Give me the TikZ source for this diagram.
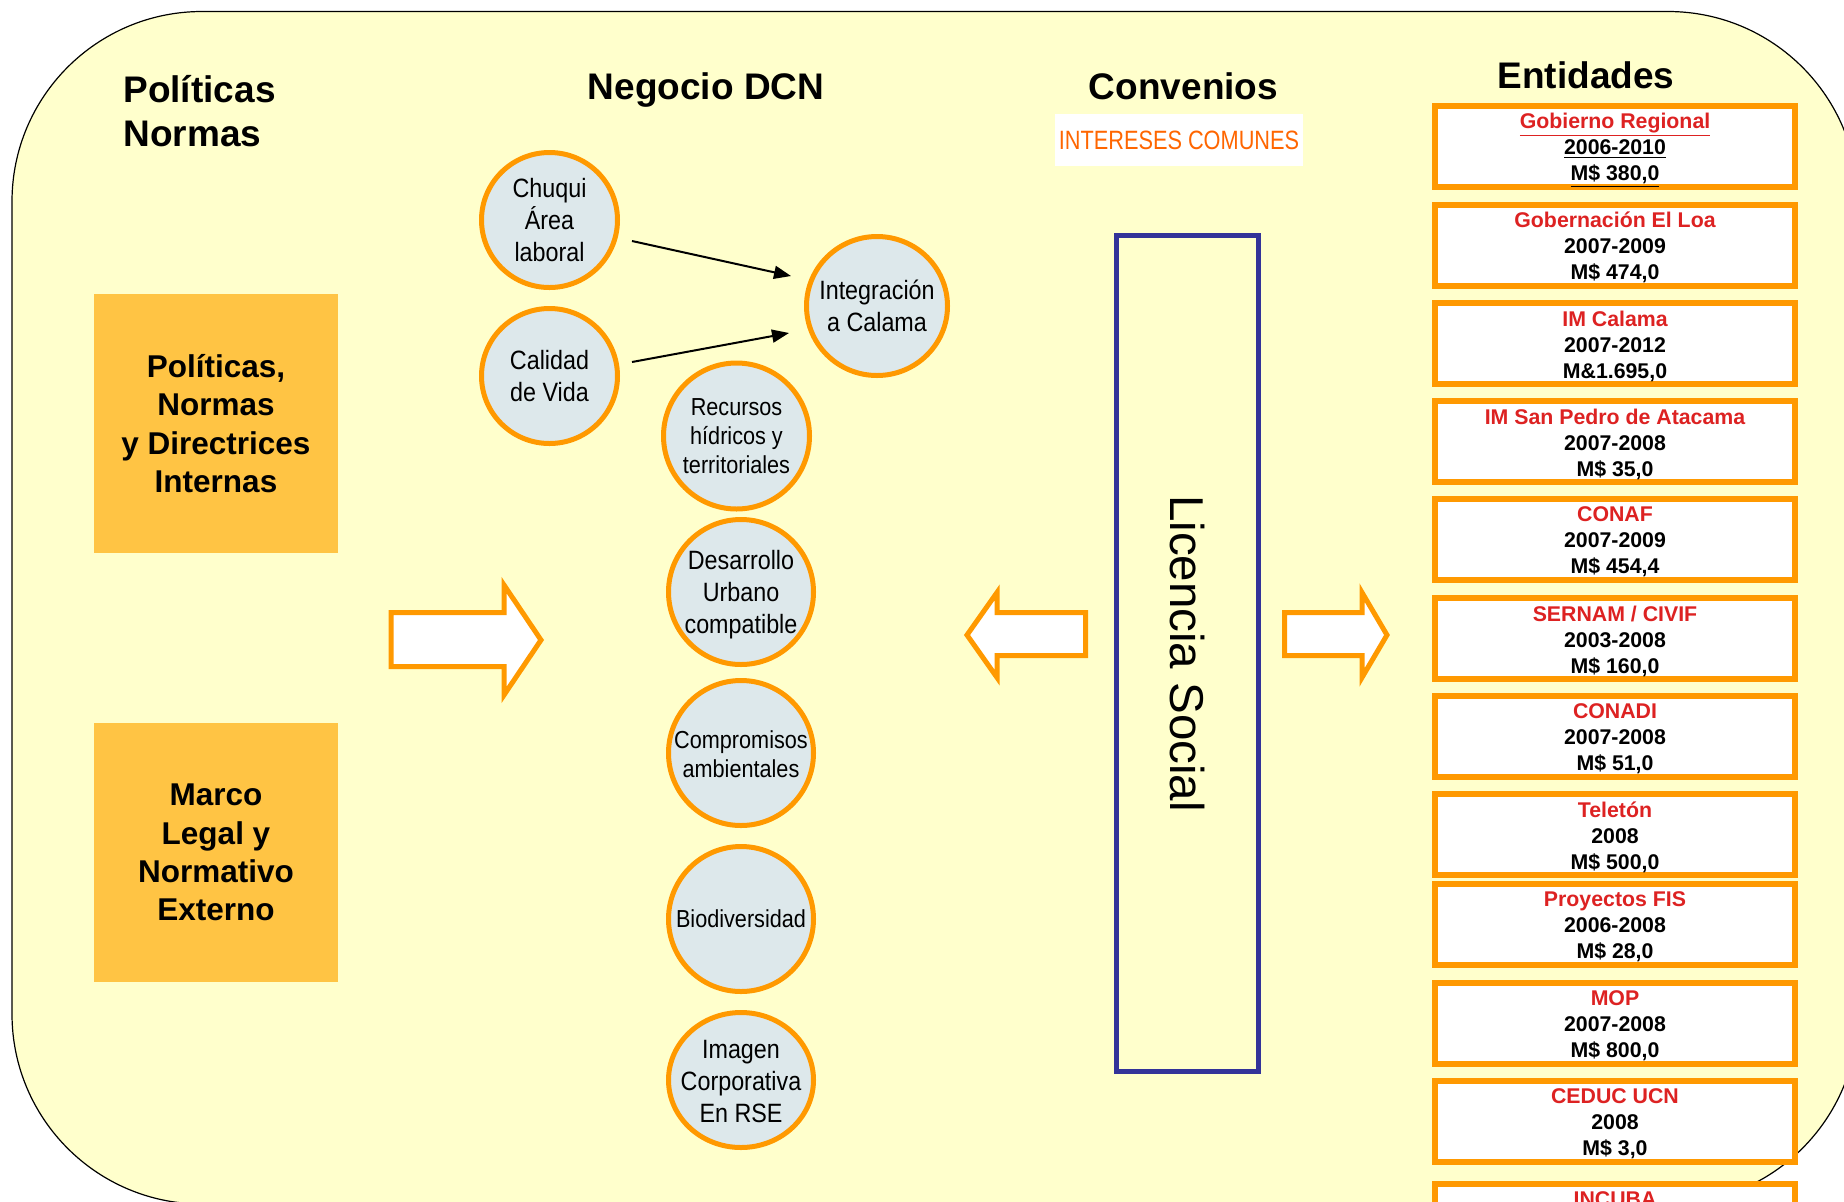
\documentclass[tikz,border=0pt]{standalone}
\usepackage{fontspec}
\setmainfont{Liberation Sans}
\newfontfamily\narrowA[FakeStretch=0.88]{Liberation Sans}
\newfontfamily\narrowB[FakeStretch=0.82]{Liberation Sans}
\usetikzlibrary{shapes.geometric,arrows.meta,calc}
\definecolor{bgyellow}{RGB}{255,255,204}
\definecolor{orng}{RGB}{255,153,0}
\definecolor{goldfill}{RGB}{255,196,68}
\definecolor{circfill}{RGB}{221,232,235}
\definecolor{navyline}{RGB}{51,51,153}
\definecolor{entred}{RGB}{221,34,34}
\definecolor{intorange}{RGB}{255,102,0}
\newcommand{\enttext}[3]{{\color{entred}#1}\\#2\\#3}
\tikzset{
  circ/.style={ellipse, draw=orng, line width=2.5pt, fill=circfill, inner sep=0pt},
  ctext/.style={inner sep=0pt, align=center, font=\narrowA\fontsize{13.25}{16}\selectfont},
  ctexts/.style={inner sep=0pt, align=center, font=\narrowA\fontsize{12.3}{14.35}\selectfont},
  goldbox/.style={rectangle, fill=goldfill, minimum width=122pt, minimum height=129.5pt, inner sep=0pt, align=center, font=\bfseries\fontsize{15.75}{19.15}\selectfont},
  entbox/.style={rectangle, draw=orng, line width=3pt, fill=white, minimum width=180pt, minimum height=40.5pt, inner sep=0pt},
  enttxt/.style={inner sep=0pt, align=center, font=\bfseries\fontsize{10.65}{13}\selectfont},
  header/.style={anchor=base, inner sep=0pt, font=\bfseries\fontsize{18.5}{22}\selectfont},
  blockarrow/.style={draw=orng, line width=2.5pt, fill=white, miter limit=10},
  conn/.style={-{Triangle[length=8.5pt,width=6.5pt]}, line width=1pt, black},
}
\begin{document}
\begin{tikzpicture}[x=0.5pt,y=-0.5pt]
\useasboundingbox (0,0) rectangle (1844,1201);
\fill[white] (0,0) rectangle (1844,1201);
\begin{scope}
  \clip (0,0) rectangle (1844,1201);
  \draw[fill=bgyellow, line width=0.6pt, rounded corners=95pt] (12,11.5) rectangle (1858,1204);
\end{scope}

% headers
\node[inner sep=0pt, anchor=west, align=left, font=\bfseries\fontsize{18.5}{22}\selectfont] (polnorm) at (123,111.5) {Políticas\\Normas};
\node[header] (negocio) at (706,99.5) {Negocio DCN};
\node[header] (convenios) at (1183.5,99.5) {Convenios};
\node[header] (entidades) at (1586,88) {Entidades};
\node[fill=white, minimum width=124pt, minimum height=26pt, inner sep=0pt, text height=9.5pt, text depth=0pt, text=intorange, font=\narrowB\fontsize{13.25}{15}\selectfont] (intereses) at (1179,140) {INTERESES COMUNES};

% left boxes
\node[goldbox] (pol) at (216,423.5) {Políticas,\\Normas\\y Directrices\\Internas};
\node[goldbox] (marco) at (216,852.5) {Marco\\Legal y\\Normativo\\Externo};

% block arrows
\draw[blockarrow] (391,612.5) -- (504,612.5) -- (504,585) -- (541,640) -- (504,695) -- (504,666.5) -- (391,666.5) -- cycle;
\draw[blockarrow] (1085.5,612.5) -- (997,612.5) -- (997,592.5) -- (967,635) -- (997,677.5) -- (997,655.5) -- (1085.5,655.5) -- cycle;
\draw[blockarrow] (1284.5,612.5) -- (1362,612.5) -- (1362,592.5) -- (1387,635) -- (1362,677.5) -- (1362,655.5) -- (1284.5,655.5) -- cycle;

% circles
\node[circ, minimum width=68pt, minimum height=67.5pt] (chuqui) at (549.5,220) {};
\node[ctext] (chuqui-t) at (chuqui.center) {Chuqui\\Área\\laboral};
\node[circ, minimum width=68pt, minimum height=67.5pt] (calidad) at (549.5,376) {};
\node[ctext] (calidad-t) at (calidad.center) {Calidad\\de Vida};
\node[circ, minimum width=70.5pt, minimum height=69.5pt] (integ) at (877,306) {};
\node[ctext] (integ-t) at (integ.center) {Integración\\a Calama};
\node[circ, minimum width=73pt, minimum height=73pt] (recursos) at (736.5,436) {};
\node[ctexts] (recursos-t) at (recursos.center) {Recursos\\hídricos y\\territoriales};
\node[circ, minimum width=72.5pt, minimum height=72.5pt] (desarrollo) at (741,592) {};
\node[ctext] (desarrollo-t) at ($(desarrollo.center)+(0,3)$) {Desarrollo\\Urbano\\compatible};
\node[circ, minimum width=72.5pt, minimum height=72.5pt] (compromisos) at (741,753) {};
\node[ctexts] (compromisos-t) at ($(compromisos.center)+(0,1.5)$) {Compromisos\\ambientales};
\node[circ, minimum width=72.5pt, minimum height=72.5pt] (biodiv) at (741,919) {};
\node[ctexts] (biodiv-t) at (biodiv.center) {Biodiversidad};
\node[circ, minimum width=72.5pt, minimum height=67.5pt] (imagen) at (741,1080) {};
\node[ctext] (imagen-t) at ($(imagen.center)+(0,1.5)$) {Imagen\\Corporativa\\En RSE};

% connectors
\draw[conn] ($(chuqui.center)+(82.5,21)$) -- ($(integ.center)+(-86,-30)$);
\draw[conn] ($(calidad.center)+(82.5,-14)$) -- ($(integ.center)+(-88,27)$);

% licencia social
\node[draw=navyline, line width=2.5pt, minimum width=71pt, minimum height=418pt, inner sep=0pt] (licencia) at (1187.5,653.5) {};
\node[rotate=-90, inner sep=0pt, font=\fontsize{23.75}{28}\selectfont] (licencia-t) at (licencia.center) {Licencia Social};

% entidades
\node[entbox] (e1) at (1615,146.5) {};
\node[enttxt] (e1-t) at ($(e1.center)+(0,4)$) {{\color{entred}\underline{Gobierno Regional}}\\\underline{2006-2010}\\\underline{M\$ 380,0}};
\node[entbox] (e2) at (1615,245) {};
\node[enttxt] (e2-t) at ($(e2.center)+(0,2.5)$) {\enttext{Gobernación El Loa}{2007-2009}{M\$ 474,0}};
\node[entbox] (e3) at (1615,343.5) {};
\node[enttxt] (e3-t) at ($(e3.center)+(0,2.5)$) {\enttext{IM Calama}{2007-2012}{M\&1.695,0}};
\node[entbox] (e4) at (1615,441.5) {};
\node[enttxt] (e4-t) at ($(e4.center)+(0,2.5)$) {\enttext{IM San Pedro de Atacama}{2007-2008}{M\$ 35,0}};
\node[entbox] (e5) at (1615,539.5) {};
\node[enttxt] (e5-t) at ($(e5.center)+(0,2.5)$) {\enttext{CONAF}{2007-2009}{M\$ 454,4}};
\node[entbox] (e6) at (1615,638.5) {};
\node[enttxt] (e6-t) at ($(e6.center)+(0,2.5)$) {\enttext{SERNAM / CIVIF}{2003-2008}{M\$ 160,0}};
\node[entbox] (e7) at (1615,736.5) {};
\node[enttxt] (e7-t) at ($(e7.center)+(0,2.5)$) {\enttext{CONADI}{2007-2008}{M\$ 51,0}};
\node[entbox] (e8) at (1615,834.5) {};
\node[enttxt] (e8-t) at ($(e8.center)+(0,2.5)$) {\enttext{Teletón}{2008}{M\$ 500,0}};
\node[entbox] (e9) at (1615,924.5) {};
\node[enttxt] (e9-t) at ($(e9.center)+(0,2.5)$) {\enttext{Proyectos FIS}{2006-2008}{M\$ 28,0}};
\node[entbox] (e10) at (1615,1023.5) {};
\node[enttxt] (e10-t) at ($(e10.center)+(0,2.5)$) {\enttext{MOP}{2007-2008}{M\$ 800,0}};
\node[entbox] (e11) at (1615,1121.5) {};
\node[enttxt] (e11-t) at ($(e11.center)+(0,2.5)$) {\enttext{CEDUC UCN}{2008}{M\$ 3,0}};
\node[entbox] (e12) at (1615,1224.5) {};
\node[enttxt] (e12-t) at ($(e12.center)+(0,2.5)$) {\enttext{INCUBA}{\phantom{2008}}{\phantom{M\$ 3,0}}};
\end{tikzpicture}
\end{document}
